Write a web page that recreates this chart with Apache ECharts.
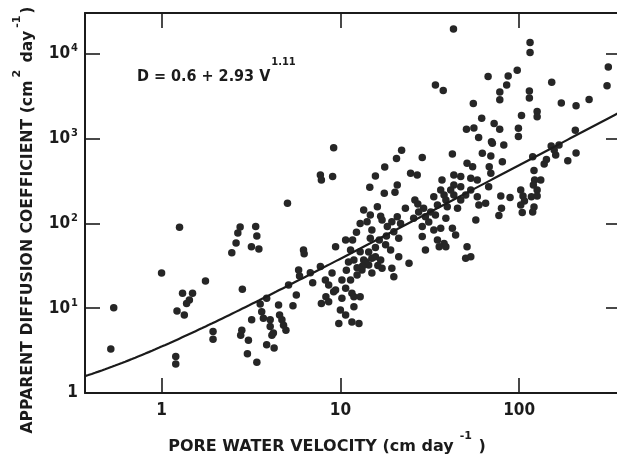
<!DOCTYPE html>
<html>
<head>
<meta charset="utf-8">
<script src="https://cdn.jsdelivr.net/npm/echarts@6/dist/echarts.min.js"></script>
<style>
  html, body { margin: 0; padding: 0; background: #ffffff; }
  #chart { width: 617px; height: 454px; }
</style>
</head>
<body>
<div id="chart"></div>
<script>
// Axis ranges and tick positions (cm/day and cm^2/day)
const xMin = 0.373, xMax = 371;
const yMin = 1, yMax = 30400;
const xTicks = [1, 10, 100];
const yTicks = [1, 10, 100, 1000, 10000];

// Fitted relation D = a + b * v^n
const fitA = 0.6, fitB = 2.93, fitN = 1.11;

// Measured points: pore water velocity (cm/day)
const velocity = [
  0.52, 0.54, 1.0, 1.26, 1.2, 1.2, 1.22, 1.34, 1.31, 1.49, 1.43, 1.38, 1.76, 1.94, 1.94,
  2.47, 2.61, 2.67, 2.75, 3.36, 3.41, 3.18, 3.5, 2.83, 2.81, 2.77, 3.06, 3.02, 3.41, 3.19,
  3.56, 3.63, 3.71, 3.87, 4.05, 4.14, 3.87, 4.26, 4.51, 4.57, 4.71, 4.81, 4.96, 4.22, 5.13,
  5.43, 5.67, 5.06, 5.84, 5.91, 6.22, 6.27, 4.05, 6.79, 7.73, 7.0, 8.24, 7.83, 8.3, 7.73,
  7.83, 9.05, 9.17, 8.6, 9.17, 8.98, 8.6, 10, 10.7, 9.8, 9.4, 10.2, 10.7, 11.4, 11.6,
  10.2, 11.9, 12.9, 11.9, 11.6, 12.7, 10.7, 11.4, 12.9, 11.9, 13.5, 14.4, 15.7, 16.8, 17.1,
  15.0, 13.2, 12.4, 19.1, 21.2, 19.4, 19.9, 24.2, 13.5, 16.1, 12.9, 14.1, 15.0, 14.7, 17.1,
  18.3, 19.4, 20.8, 23.1, 21.7, 19.9, 21.2, 25.7, 15.7, 14.6, 17.6, 20.2, 20.8, 24.7, 26.9,
  26.1, 27.1, 17.7, 20.6, 22.0, 28.7, 14.7, 13.9, 15.0, 14.4, 16.2, 13.3, 11.1, 17.9, 16.5,
  12.3, 11.7, 28.7, 33.3, 36.4, 42.3, 44.1, 28.7, 29.9, 34.9, 38, 35.7, 38.9, 51.1, 50.2,
  53.6, 29.2, 32, 34.9, 39.6, 45.2, 29.9, 34, 38.9, 57.2, 36.4, 38, 33.3, 43.1, 47.1,
  53.6, 43.1, 47.1, 58.3, 59.5, 64.9, 51.1, 54.9, 68, 69.4, 43.1, 47.1, 53.6, 58.3, 37,
  42.3, 62.2, 69.4, 70.8, 82, 80.5, 34, 37.6, 42.9, 55.4, 61.7, 72.4, 77.8, 50.7, 55.8,
  59.3, 70, 67, 86.8, 97.5, 85.1, 77.9, 77.9, 115, 115, 114, 114, 103, 99, 99,
  78.9, 88.9, 102, 105, 107, 121, 122, 132, 120, 126, 117, 126, 104, 121, 119,
  77, 79.6, 119, 138, 142, 151, 167, 160, 187, 208, 206, 157, 126, 126, 152,
  172, 208, 246, 315, 310, 38.9, 41.4, 50.2, 31.2, 27.4, 18.1, 15.7, 12.4, 10.8, 9.4,
  67.5, 102, 16.8
];

// Measured points: apparent diffusion coefficient (cm^2/day)
const diffusion = [
  3.3, 10.1, 26, 90, 2.7, 2.2, 9.3, 8.3, 15, 15, 12.5, 11.4, 21, 5.3, 4.3,
  45, 59, 77, 91, 92, 71, 53, 50, 16.7, 5.5, 4.8, 4.2, 2.9, 2.3, 7.3,
  11.2, 9.1, 7.6, 13.1, 6.1, 4.8, 3.7, 3.4, 10.9, 8.3, 7.3, 6.3, 5.5, 5.1, 18.8,
  10.7, 14.3, 173, 28.3, 24, 48.7, 44, 7.3, 26.3, 31, 20, 21.5, 11.4, 13.7, 373,
  326, 357, 783, 18.8, 15.7, 26, 11.9, 9.5, 8.3, 6.6, 53, 21.5, 17.2, 21.5, 15,
  13.1, 13.7, 13.7, 10.4, 6.9, 6.6, 64, 48.7, 46.5, 37.1, 37.1, 32.4, 40.6, 37.1, 29.6,
  26, 28.3, 24.7, 48.7, 40.6, 29.6, 23.5, 34, 144, 158, 100, 105, 84, 67, 110,
  92, 105, 120, 151, 100, 80, 67, 115, 363, 267, 227, 233, 285, 391, 374,
  189, 170, 464, 584, 730, 600, 126, 35, 39, 46, 32, 31.5, 35, 56, 64,
  79, 64, 92, 84, 88, 88, 73, 70, 48.7, 64, 58, 53, 53, 53, 39,
  40.6, 151, 137, 165, 158, 151, 120, 126, 115, 110, 248, 217, 207, 285, 272,
  248, 217, 189, 207, 165, 173, 513, 468, 468, 391, 374, 357, 341, 326, 326,
  660, 673, 625, 883, 844, 536, 4300, 3700, 19700, 2600, 1740, 1510, 1290, 1290, 1340,
  1035, 920, 5400, 5500, 6400, 4300, 3560, 2880, 13600, 10400, 3660, 3020, 1880, 1330, 1060,
  211, 203, 248, 211, 184, 422, 326, 326, 285, 248, 207, 211, 135, 156, 137,
  124, 151, 614, 503, 569, 822, 840, 643, 550, 678, 1260, 736, 2100, 1820, 4640,
  2640, 2450, 2900, 7000, 4200, 189, 248, 217, 104, 137, 71, 52, 30, 28, 16.4,
  272, 165, 122
];

const points = velocity.map((v, i) => [v, diffusion[i]]);

// Fitted curve across the plotted velocity range
const fitLine = [];
const steps = 160;
for (let i = 0; i <= steps; i++) {
  const v = xMin * Math.pow(xMax / xMin, i / steps);
  fitLine.push([v, fitA + fitB * Math.pow(v, fitN)]);
}

const ink = '#1b1b1b';
const font = 'DejaVu Sans';
const narrow = 'DejaVu Sans Condensed, DejaVu Sans';

const supLabel = (v) => {
  const p = Math.round(Math.log10(v));
  return p === 0 ? '{m|1}' : '{m|10}{s|' + p + '}';
};

const chart = echarts.init(document.getElementById('chart'), null, { renderer: 'canvas' });

const tickStyle = { inside: true, length: 15, lineStyle: { color: ink, width: 1.6 } };
const lineStyle = { color: ink, width: 2 };

chart.setOption({
  backgroundColor: '#ffffff',
  animation: false,
  title: {
    text: '{m|D = ' + fitA + ' + ' + fitB + ' V}{s|' + fitN + '}',
    left: 137,
    top: 57,
    padding: 0,
    textStyle: {
      fontWeight: 'bold',
      rich: {
        m: { fontFamily: narrow, fontSize: 16, fontWeight: 'bold', color: ink, lineHeight: 40 },
        s: { fontFamily: narrow, fontSize: 11, fontWeight: 'bold', color: ink, lineHeight: 13, verticalAlign: 'top', padding: [0, 0, 0, 1] }
      }
    }
  },
  grid: { left: 85, width: 536, top: 13, bottom: 61, outerBoundsMode: 'none', containLabel: false },
  xAxis: [
    {
      type: 'log', logBase: 10, min: xMin, max: xMax, position: 'bottom',
      axisLine: { show: true, lineStyle: lineStyle },
      axisTick: Object.assign({ customValues: xTicks }, tickStyle),
      minorTick: { show: false },
      splitLine: { show: false },
      axisLabel: { customValues: xTicks, margin: 9, fontFamily: narrow, fontWeight: 'bold', fontSize: 17, color: ink,
        formatter: (v) => String(Math.round(v)) },
      name: '{m|PORE WATER VELOCITY (cm day}{s|-1}{m| )}',
      nameLocation: 'middle',
      nameGap: 38,
      nameTextStyle: {
        padding: [0, 52, 0, 0],
        rich: {
          m: { fontFamily: font, fontSize: 16, fontWeight: 'bold', color: ink, lineHeight: 31 },
          s: { fontFamily: font, fontSize: 11, fontWeight: 'bold', color: ink, lineHeight: 13, verticalAlign: 'top', padding: [0, 1, 0, 6] }
        }
      }
    },
    {
      type: 'log', logBase: 10, min: xMin, max: xMax, position: 'top',
      axisLine: { show: true, lineStyle: lineStyle },
      axisTick: Object.assign({ customValues: xTicks }, tickStyle),
      axisLabel: { show: false },
      splitLine: { show: false }
    }
  ],
  yAxis: [
    {
      type: 'log', logBase: 10, min: yMin, max: yMax, position: 'left',
      axisLine: { show: true, lineStyle: lineStyle },
      axisTick: Object.assign({ customValues: yTicks }, tickStyle),
      minorTick: { show: false },
      splitLine: { show: false },
      axisLabel: {
        customValues: yTicks, margin: 7, formatter: supLabel,
        rich: {
          m: { fontFamily: narrow, fontWeight: 'bold', fontSize: 17, color: ink, lineHeight: 22 },
          s: { fontFamily: narrow, fontWeight: 'bold', fontSize: 11, color: ink, lineHeight: 12, verticalAlign: 'top', padding: [0, 0, 0, 1] }
        }
      },
      name: '{m|APPARENT DIFFUSION COEFFICIENT (cm}{s|2}{m| day}{s|-1}{m|)}',
      nameLocation: 'middle',
      nameGap: 42,
      nameTextStyle: {
        padding: [0, 34, 0, 0],
        rich: {
          m: { fontFamily: font, fontSize: 15.7, fontWeight: 'bold', color: ink, lineHeight: 31 },
          s: { fontFamily: font, fontSize: 11, fontWeight: 'bold', color: ink, lineHeight: 13, verticalAlign: 'top', padding: [0, 2, 0, 3] }
        }
      }
    },
    {
      type: 'log', logBase: 10, min: yMin, max: yMax, position: 'right',
      axisLine: { show: false },
      axisTick: Object.assign({ show: true, customValues: yTicks }, tickStyle),
      axisLabel: { show: false },
      splitLine: { show: false }
    }
  ],
  series: [
    {
      type: 'scatter',
      xAxisIndex: 0, yAxisIndex: 0,
      data: points,
      symbol: 'circle',
      symbolSize: 7.5,
      itemStyle: { color: '#262626', opacity: 1 },
      emphasis: { disabled: true },
      z: 2
    },
    {
      type: 'line',
      xAxisIndex: 0, yAxisIndex: 0,
      data: fitLine,
      showSymbol: false,
      smooth: false,
      lineStyle: { color: ink, width: 2.2 },
      emphasis: { disabled: true },
      z: 3
    }
  ]
});
</script>
</body>
</html>
